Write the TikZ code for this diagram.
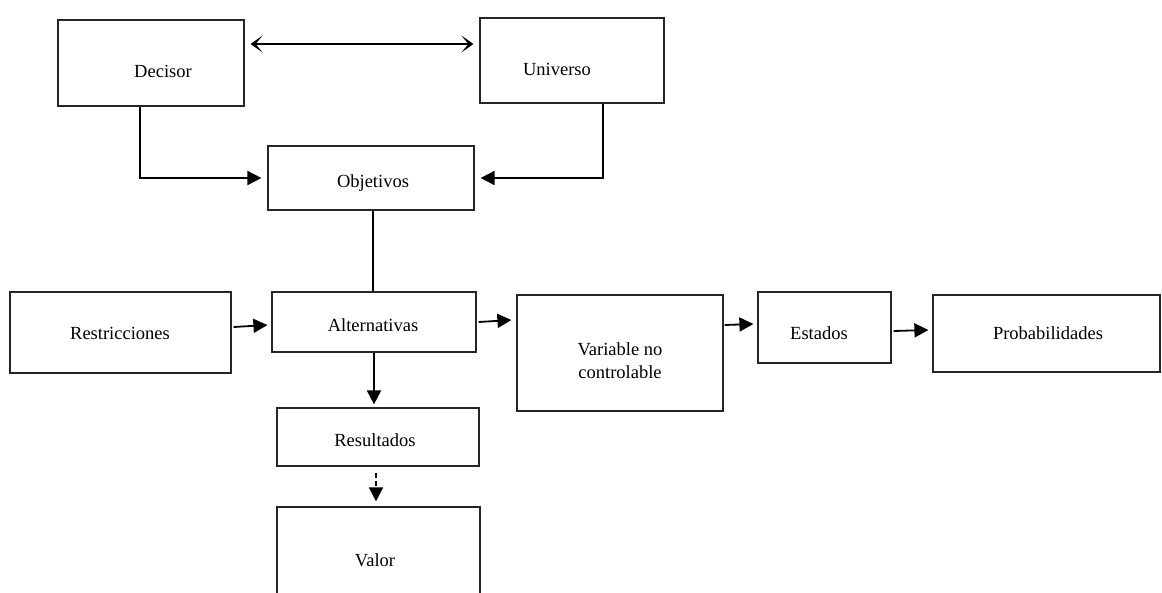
\documentclass[tikz,border=0pt]{standalone}
\usepackage{fontspec}
\setmainfont{Liberation Serif}
\usetikzlibrary{arrows.meta,calc}
\begin{document}
\begin{tikzpicture}[x=1pt,y=-1pt,
  box/.style={draw=black!85,line width=1.2pt,rectangle,inner sep=0pt},
  lbl/.style={font=\fontsize{18.5}{21}\selectfont,align=center,inner sep=0pt},
  conn/.style={line width=1.8pt,black},
  arr/.style={conn,-{Triangle[length=14pt,width=14pt]}},
  tip/.style={Stealth[length=12pt,width=17pt,inset=7pt]},
  dbl/.style={conn,{Stealth[length=12pt,width=17pt,inset=7pt]}-{Stealth[length=12pt,width=17pt,inset=7pt]}},
  darr/.style={arr,dash pattern=on 5pt off 3pt}]
\useasboundingbox (0,0) rectangle (1162,592);
\fill[white] (0,0) rectangle (1162,592);
\begin{scope}
\clip (0,0) rectangle (1162,592);
% boxes
\node[box,minimum width=186pt,minimum height=86pt] (dec) at (151,63) {};
\node[box,minimum width=184pt,minimum height=85pt] (uni) at (572,60.5) {};
\node[box,minimum width=206pt,minimum height=64pt] (obj) at (371,178) {};
\node[box,minimum width=221pt,minimum height=81pt] (res) at (120.5,332.5) {};
\node[box,minimum width=204pt,minimum height=60pt] (alt) at (374,322) {};
\node[box,minimum width=206pt,minimum height=116pt] (var) at (620,353) {};
\node[box,minimum width=133pt,minimum height=71pt] (est) at (824.5,327.5) {};
\node[box,minimum width=227pt,minimum height=77pt] (prob) at (1046.5,333.5) {};
\node[box,minimum width=202pt,minimum height=58pt] (resu) at (378,437) {};
\node[box,minimum width=203pt,minimum height=113pt] (val) at (378.5,563.5) {};
% labels
\node[lbl] (decT) at (163,71) {Decisor};
\node[lbl] (uniT) at (557,69) {Universo};
\node[lbl] (objT) at (373,183) {Objetivos};
\node[lbl] (resT) at (120,333) {Restricciones};
\node[lbl] (altT) at (373,325) {Alternativas};
\node[lbl] (varT) at (620,361) {Variable no\\[2pt]controlable};
\node[lbl] (estT) at (819,333) {Estados};
\node[lbl] (probT) at (1048,333) {Probabilidades};
\node[lbl] (resuT) at (375,440) {Resultados};
\node[lbl] (valT) at (375,560) {Valor};
% connectors
\draw[dbl] ([xshift=6pt,yshift=19pt]dec.east) -- ([xshift=-6pt,yshift=16.5pt]uni.west);
\draw[arr] ([xshift=-11pt]dec.south) |- ([xshift=-6pt]obj.west);
\draw[arr] ([xshift=31pt]uni.south) |- ([xshift=6pt]obj.east);
\draw[conn] ([xshift=2pt]obj.south) -- ([xshift=-1pt]alt.north);
\draw[arr] ([xshift=2pt,yshift=5.5pt]res.east) -- ([xshift=-4pt,yshift=-3pt]alt.west);
\draw[arr] ([xshift=2pt]alt.east) -- ([xshift=-5pt,yshift=33pt]var.west);
\draw[arr] ([xshift=1pt,yshift=28pt]var.east) -- ([xshift=-4pt,yshift=3.5pt]est.west);
\draw[arr] ([xshift=2pt,yshift=-3.5pt]est.east) -- ([xshift=-4pt,yshift=3.5pt]prob.west);
\draw[arr] (alt.south) -- ([xshift=-4pt,yshift=3pt]resu.north);
\draw[darr] ([xshift=-2pt,yshift=-6pt]resu.south) -- ([xshift=-2.5pt,yshift=5pt]val.north);
\end{scope}
\end{tikzpicture}
\end{document}
